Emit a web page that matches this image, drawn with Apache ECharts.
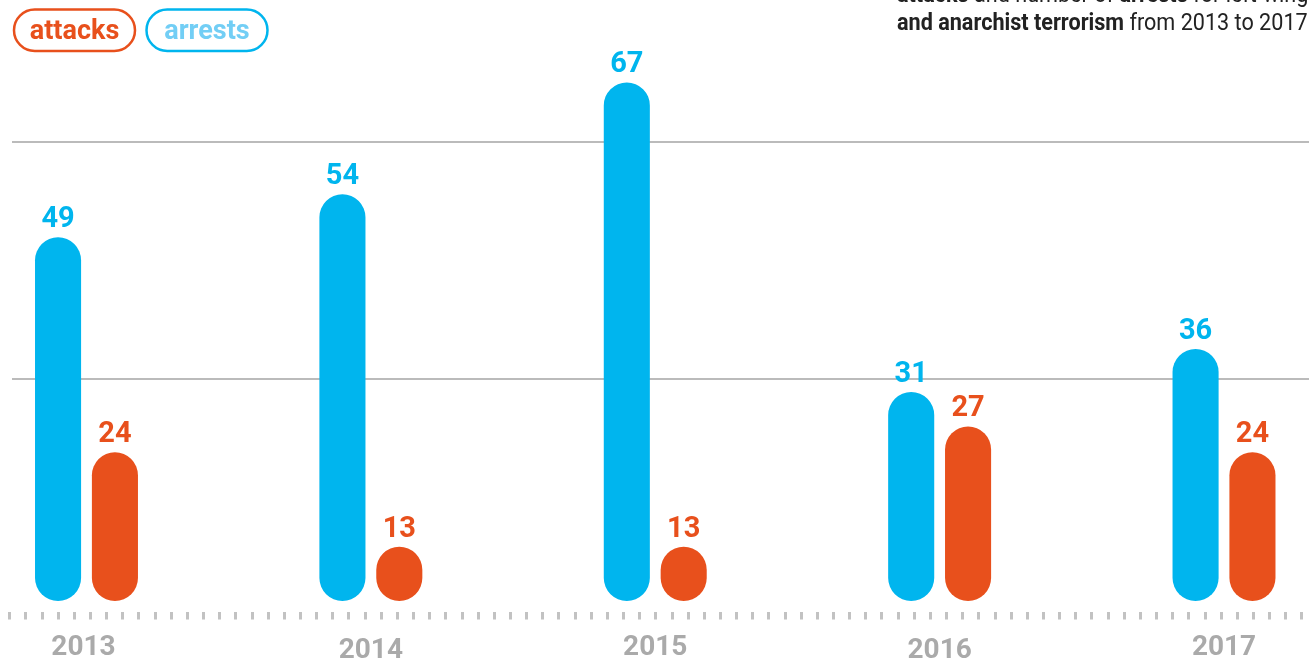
<!DOCTYPE html>
<html>
<head>
<meta charset="utf-8">
<script src="https://cdn.jsdelivr.net/npm/echarts@6/dist/echarts.min.js"></script>
<style>
html,body{margin:0;padding:0;background:#fff;}
#chart{width:1309px;height:661px;}
</style>
</head>
<body>
<div id="chart"></div>
<script>
const years = ['2013', '2014', '2015', '2016', '2017'];
const arrests = [49, 54, 67, 31, 36];
const attacks = [24, 13, 13, 27, 24];

const BLUE = '#00b5ee';
const ORANGE = '#e8501c';
const BASE = 6.7;

function makeRenderer(side, color) {
  return function (params, api) {
    const i = api.value(0), v = api.value(1);
    const band = api.size([1, 0])[0];
    const w = band * 0.162;
    const p = api.coord([i, v]);
    const cx = p[0] + side * band * 0.1;
    const top = p[1];
    const bot = api.coord([i, BASE])[1];
    return {
      type: 'rect',
      shape: { x: cx - w / 2, y: top, width: w, height: bot - top, r: w / 2 },
      style: { fill: color },
      textContent: { style: { text: String(v), fill: color, font: 'bold 29px Roboto' } },
      textConfig: { position: 'top', distance: 3 }
    };
  };
}

const chart = echarts.init(document.getElementById('chart'));
chart.setOption({
  animation: false,
  grid: [
    { left: -55.7, width: 1421.9, top: 56.6, bottom: 60, containLabel: false, outerBoundsMode: 'none' },
    { left: 9.5, width: 1292.2, top: 500, bottom: 49, outerBoundsMode: 'none' },
    { left: 12, right: 0, top: 142, bottom: 282, outerBoundsMode: 'none' }
  ],
  xAxis: [
    {
      gridIndex: 0, type: 'category', data: years,
      axisLine: { show: false }, axisTick: { show: false },
      axisLabel: {
        margin: 33,
        formatter: function (val, idx) { return (idx % 2 ? '{b|' : (idx === 0 ? '{c|' : '{a|')) + val + '}'; },
        rich: {
          a: { color: '#aaaaaa', fontFamily: 'Roboto', fontWeight: 'bold', fontSize: 28, lineHeight: 28 },
          b: { color: '#aaaaaa', fontFamily: 'Roboto', fontWeight: 'bold', fontSize: 28, lineHeight: 34 },
          c: { color: '#aaaaaa', fontFamily: 'Roboto', fontWeight: 'bold', fontSize: 28, lineHeight: 28, padding: [0, 6, 0, 0] }
        }
      }
    },
    {
      gridIndex: 1, type: 'value', min: 0, max: 80, interval: 1,
      axisLine: { show: false },
      axisTick: { show: true, length: 7.5, lineStyle: { color: '#c2c2c2', width: 3 } },
      axisLabel: { show: false }, splitLine: { show: false }
    },
    { gridIndex: 2, type: 'value', show: false }
  ],
  yAxis: [
    { gridIndex: 0, type: 'value', min: BASE, max: 70, show: false },
    { gridIndex: 1, type: 'value', show: false },
    {
      gridIndex: 2, type: 'value', min: 0, max: 1, interval: 1,
      axisLine: { show: false }, axisTick: { show: false }, axisLabel: { show: false },
      splitLine: { show: true, lineStyle: { color: '#bbbbbb', width: 2 } }
    }
  ],
  series: [
    {
      type: 'custom', name: 'arrests', xAxisIndex: 0, yAxisIndex: 0, z: 5,
      renderItem: makeRenderer(-1, BLUE),
      data: arrests.map((v, i) => [i, v])
    },
    {
      type: 'custom', name: 'attacks', xAxisIndex: 0, yAxisIndex: 0, z: 5,
      renderItem: makeRenderer(1, ORANGE),
      data: attacks.map((v, i) => [i, v])
    }
  ],
  graphic: [
    { type: 'rect', shape: { x: 14, y: 9.5, width: 121, height: 41.5, r: 21 },
      style: { fill: 'none', stroke: ORANGE, lineWidth: 2.5 } },
    { type: 'text', x: 74.5, y: 32,
      style: { text: 'attacks', fill: ORANGE, font: 'bold 27px Roboto', align: 'center', verticalAlign: 'middle' } },
    { type: 'rect', shape: { x: 146.5, y: 9.5, width: 121, height: 41.5, r: 21 },
      style: { fill: 'none', stroke: BLUE, lineWidth: 2.5 } },
    { type: 'text', x: 207, y: 32,
      style: { text: 'arrests', fill: '#72cef5', font: 'bold 27px Roboto', align: 'center', verticalAlign: 'middle' } },
    { type: 'text', x: 897, y: 7.5, scaleX: 0.9,
      style: { text: '{b|attacks} and number of {b|arrests} for left-wing', fill: '#222222', font: '24px Roboto',
               verticalAlign: 'bottom', rich: { b: { fontWeight: 'bold', fontSize: 24, fontFamily: 'Roboto', fill: '#222222' } } } },
    { type: 'text', x: 897, y: 36, scaleX: 0.9,
      style: { text: '{b|and anarchist terrorism} from 2013 to 2017.', fill: '#222222', font: '24px Roboto',
               verticalAlign: 'bottom', rich: { b: { fontWeight: 'bold', fontSize: 24, fontFamily: 'Roboto', fill: '#222222' } } } }
  ]
});
</script>
</body>
</html>
